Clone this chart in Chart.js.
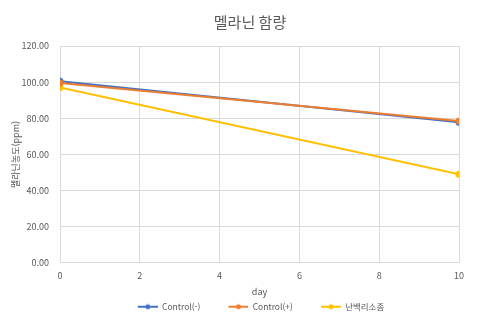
<!DOCTYPE html>
<html lang="ko">
<head>
<meta charset="utf-8">
<title>멜라닌 함량</title>
<script src="https://cdn.jsdelivr.net/npm/chart.js@4/dist/chart.umd.min.js"></script>
<style>
  html, body { margin: 0; padding: 0; background: #fff; }
  #wrap { width: 500px; height: 327px; position: relative; }
</style>
</head>
<body>
<div id="wrap"><canvas id="grafico"></canvas></div>
<script>
// dados medidos no dia 0 e no dia 10
const dias = [0, 10];
const controlNeg = [100.5, 77.8];
const controlPos = [99.5, 78.5];
const lisossomo = [97.0, 49.0];
const nomes = ['Control(-)', 'Control(+)', '난백리소좀'];
const cores = ['#4472c4', '#ed7d31', '#ffc000'];
// laranja por cima do azul
const ordem = [1, 0, 2];

const fonte = "'Noto Sans CJK KR', 'Noto Sans', sans-serif";
const cinza = '#595959';

function pontos(valores) {
  return dias.map((d, i) => ({ x: d, y: valores[i] }));
}

// icone da legenda: linha com marcador, parte esquerda vazia para dar espaco
function iconeLegenda(cor) {
  const c = document.createElement('canvas');
  c.width = 42; c.height = 8;
  const g = c.getContext('2d');
  g.strokeStyle = cor;
  g.lineWidth = 2;
  g.beginPath();
  g.moveTo(22, 4); g.lineTo(42, 4);
  g.stroke();
  g.fillStyle = cor;
  g.beginPath();
  g.arc(32, 4, 2.5, 0, Math.PI * 2);
  g.fill();
  return c;
}

const series = [controlNeg, controlPos, lisossomo];

const ctx = document.getElementById('grafico').getContext('2d');
new Chart(ctx, {
  type: 'scatter',
  data: {
    datasets: series.map((v, i) => ({
      label: nomes[i],
      data: pontos(v),
      order: ordem[i],
      showLine: true,
      borderColor: cores[i],
      backgroundColor: cores[i],
      borderWidth: 2,
      pointRadius: 2.5,
      pointHoverRadius: 3
    }))
  },
  options: {
    responsive: true,
    maintainAspectRatio: false,
    animation: false,
    layout: { padding: { left: 2, right: 2, top: 6, bottom: 6 } },
    plugins: {
      title: {
        display: true,
        text: '멜라닌 함량',
        color: cinza,
        font: { family: fonte, size: 15, weight: 'normal' },
        padding: { top: 7, bottom: 15 }
      },
      legend: {
        position: 'bottom',
        labels: {
          color: cinza,
          font: { family: fonte, size: 8.5 },
          usePointStyle: true,
          pointStyleWidth: 42,
          padding: 6,
          generateLabels: chart => chart.data.datasets.map((ds, i) => ({
            text: ds.label,
            pointStyle: iconeLegenda(cores[i]),
            fillStyle: cores[i],
            strokeStyle: cores[i],
            fontColor: cinza,
            datasetIndex: i,
            hidden: false
          }))
        }
      },
      tooltip: { enabled: true }
    },
    scales: {
      x: {
        type: 'linear',
        min: 0,
        max: 10,
        afterFit: s => { s.height -= 2; },
        ticks: { stepSize: 2, padding: 7, color: cinza, font: { family: fonte, size: 9 } },
        grid: { color: '#d9d9d9', drawTicks: false },
        border: { color: '#d9d9d9' },
        title: { display: true, text: 'day', color: cinza, font: { family: fonte, size: 9 }, padding: { top: 0, bottom: 0 } }
      },
      y: {
        min: 0,
        max: 120,
        afterFit: s => { s.width = 58; },
        ticks: {
          stepSize: 20,
          color: cinza,
          padding: 11,
          font: { family: fonte, size: 9 },
          callback: v => v.toFixed(2)
        },
        grid: { color: '#d9d9d9', drawTicks: false },
        border: { display: false },
        title: { display: true, text: '멜라닌농도(ppm)', color: cinza, font: { family: fonte, size: 9 }, padding: { top: 8, bottom: 0 } }
      },
      // margem direita vazia, como no grafico original
      margem: {
        position: 'right',
        afterFit: s => { s.width = 39; },
        ticks: { display: false },
        grid: { display: false },
        border: { display: false }
      }
    }
  }
});
</script>
</body>
</html>
